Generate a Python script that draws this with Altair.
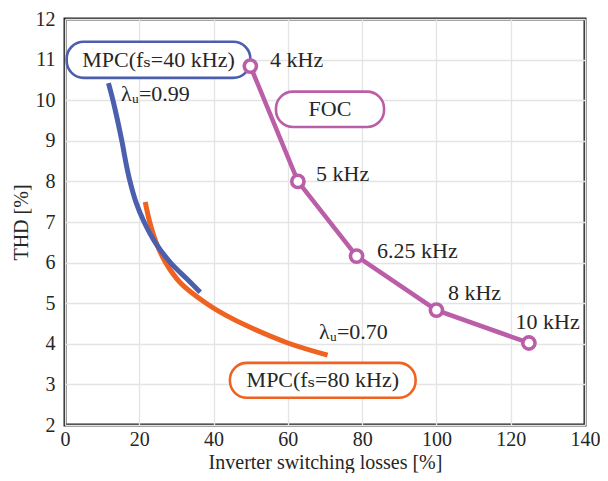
import altair as alt
import pandas as pd

# ---- data ----
foc_losses = [49.9, 62.7, 78.5, 100.0, 124.9]
foc_thd = [10.84, 8.0, 6.16, 4.83, 4.02]
foc_freqs = ["4 kHz", "5 kHz", "6.25 kHz", "8 kHz", "10 kHz"]

mpc40_losses = [11.7, 12.9, 15.3, 16.4, 17.5, 19.1, 21.3, 24.4, 28.4, 32.8, 36.4]
mpc40_thd = [10.42, 10.0, 9.0, 8.46, 8.0, 7.49, 7.0, 6.48, 6.0, 5.6, 5.27]

mpc80_losses = [21.6, 22.8, 24.6, 27.1, 31.1, 38.0, 43.0, 50.0, 60.0, 70.7]
mpc80_thd = [7.49, 7.0, 6.48, 6.0, 5.5, 5.0, 4.72, 4.4, 4.02, 3.72]

x_ticks = [0, 20, 40, 60, 80, 100, 120, 140]
y_ticks = [2, 3, 4, 5, 6, 7, 8, 9, 10, 11, 12]

# annotation anchors (data coordinates)
freq_label_x = [55.2, 67.6, 84.0, 103.1, 121.3]
freq_label_y = [11.0, 8.17, 6.29, 5.25, 4.54]

box_texts = ["MPC(fₛ=40 kHz)", "FOC", "MPC(fₛ=80 kHz)"]
box_x = [0.45, 56.8, 44.4]
box_x2 = [49.9, 85.9, 94.4]
box_y = [10.55, 9.34, 2.67]
box_y2 = [11.44, 10.21, 3.53]
box_colors = ["#4c5fae", "#bb5ea8", "#f0621f"]

lam_texts = ["λᵤ=0.99", "λᵤ=0.70"]
lam_x = [15.1, 68.4]
lam_y = [10.16, 4.30]

BLUE, PURPLE, ORANGE = "#4c5fae", "#bb5ea8", "#f0621f"
FONT = "Liberation Serif, DejaVu Serif, serif"
TXT = "#262626"

xs = alt.Scale(domain=[0, 140], nice=False, zero=False)
ys = alt.Scale(domain=[2, 12], nice=False, zero=False)
xaxis = alt.Axis(values=x_ticks, title="Inverter switching losses [%]", labelPadding=4,
                 titlePadding=3, labelFlush=False)
yaxis = alt.Axis(values=y_ticks, title="THD [%]", labelPadding=10, titlePadding=4)


def X(f="x"):
    return alt.X(f"{f}:Q", scale=xs, axis=xaxis)


def Y(f="y"):
    return alt.Y(f"{f}:Q", scale=ys, axis=yaxis)


foc = pd.DataFrame({"x": foc_losses, "y": foc_thd})
mpc40 = pd.DataFrame({"x": mpc40_losses, "y": mpc40_thd})
mpc80 = pd.DataFrame({"x": mpc80_losses, "y": mpc80_thd})
freq_df = pd.DataFrame({"x": freq_label_x, "y": freq_label_y, "t": foc_freqs})
box_df = pd.DataFrame({"x": box_x, "x2": box_x2, "y": box_y, "y2": box_y2,
                       "t": box_texts, "c": box_colors,
                       "cx": [(a + b) / 2 for a, b in zip(box_x, box_x2)],
                       "cy": [(a + b) / 2 for a, b in zip(box_y, box_y2)]})
lam_df = pd.DataFrame({"x": lam_x, "y": lam_y, "t": lam_texts})

boxes = alt.Chart(box_df).mark_rect(cornerRadius=17, fill="white", strokeWidth=2.6).encode(
    x=X(), x2="x2:Q", y=Y(), y2="y2:Q",
    stroke=alt.Color("c:N", scale=None))

box_labels = alt.Chart(box_df).mark_text(font=FONT, fontSize=22, color=TXT,
                                          align="center", baseline="middle").encode(
    x=X("cx"), y=Y("cy"), text="t:N")

line40 = alt.Chart(mpc40).mark_line(color=BLUE, strokeWidth=5, interpolate="catmull-rom").encode(x=X(), y=Y())
line80 = alt.Chart(mpc80).mark_line(color=ORANGE, strokeWidth=5, interpolate="catmull-rom").encode(x=X(), y=Y())
focline = alt.Chart(foc).mark_line(color=PURPLE, strokeWidth=4.5).encode(x=X(), y=Y())
focpts = alt.Chart(foc).mark_point(shape="circle", filled=True, fill="white", stroke=PURPLE,
                                   strokeWidth=3.6, size=150, opacity=1).encode(x=X(), y=Y())

freq_labels = alt.Chart(freq_df).mark_text(font=FONT, fontSize=22, color=TXT,
                                           align="left", baseline="middle").encode(
    x=X(), y=Y(), text="t:N")
lam_labels = alt.Chart(lam_df).mark_text(font=FONT, fontSize=22, color=TXT,
                                         align="left", baseline="middle").encode(
    x=X(), y=Y(), text="t:N")

chart = alt.layer(boxes, line80, line40, focline, focpts, box_labels, freq_labels, lam_labels).properties(
    width=520, height=406,
    autosize=alt.AutoSizeParams(type="none"),
    padding={"left": 57, "top": 11, "right": 15, "bottom": 48},
    background="white",
).configure_view(stroke="#222222", strokeWidth=3).configure_axis(
    grid=True, gridColor="#e4e4e4", gridWidth=1.3, domain=False, ticks=False,
    labelFont=FONT, labelFontSize=20, labelColor=TXT,
    titleFont=FONT, titleFontSize=20, titleFontWeight="normal", titleColor=TXT,
).configure_text(font=FONT).configure_mark(font=FONT)

chart.save("out.html", embed_options={"renderer": "svg", "actions": False})
